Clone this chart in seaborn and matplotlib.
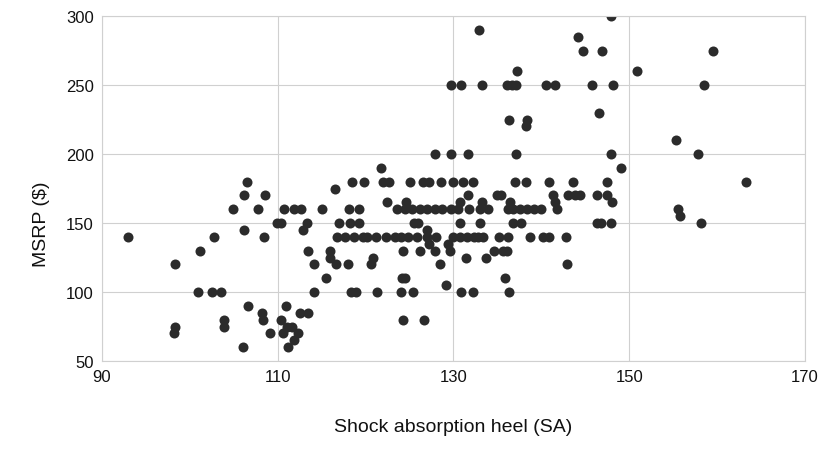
import numpy as np
import pandas as pd
import seaborn as sns
import matplotlib.pyplot as plt

# Shock absorption heel (SA) vs MSRP, grouped by price level
sa_60 = [106.0, 111.2]
sa_65 = [111.9]
sa_70 = [98.2, 109.1, 110.6, 112.3]
sa_75 = [98.3, 103.9, 111.0, 111.6]
sa_80 = [103.9, 108.3, 110.4, 124.3, 126.7]
sa_85 = [108.2, 112.5, 113.4]
sa_90 = [106.6, 110.9]
sa_100 = [100.9, 102.5, 103.5, 114.1, 118.3, 118.9, 121.3, 124.0, 125.4, 130.9, 132.2, 136.3]
sa_105 = [129.1]
sa_110 = [115.5, 124.2, 124.5, 135.9]
sa_120 = [98.3, 114.1, 116.6, 118.0, 120.6, 128.5, 142.9]
sa_125 = [115.9, 120.8, 131.4, 133.7]
sa_130 = [101.1, 113.4, 115.9, 124.3, 126.2, 127.9, 129.6, 134.6, 135.6, 136.1]
sa_135 = [127.2, 129.4]
sa_140 = [93.0, 102.8, 108.4, 116.7, 117.7, 118.7, 119.7, 120.2, 121.2, 122.3, 123.3,
          124.0, 124.8, 125.9, 127.0, 128.0, 129.9, 130.7, 131.5, 132.3, 132.8, 133.4,
          135.2, 136.2, 138.7, 140.2, 140.9, 142.8]
sa_145 = [106.2, 112.9, 127.0]
sa_150 = [109.9, 110.4, 113.3, 117.0, 118.2, 119.3, 125.5, 126.0, 130.8, 133.0, 136.8,
          137.7, 146.3, 146.8, 147.9, 158.2]
sa_155 = [155.8]
sa_160 = [104.9, 107.7, 110.7, 111.8, 112.6, 115.0, 118.1, 119.2, 123.6, 124.5, 125.3,
          126.2, 127.0, 127.9, 128.7, 129.7, 130.5, 131.8, 133.0, 133.9, 136.2, 136.8,
          137.6, 138.4, 139.2, 140.0, 141.8, 155.5]
sa_165 = [122.4, 124.6, 130.8, 133.2, 136.4, 141.6, 148.0]
sa_170 = [106.2, 108.5, 131.7, 134.9, 135.4, 141.3, 143.0, 143.8, 144.4, 146.3, 147.5]
sa_175 = [116.5]
sa_180 = [106.5, 118.4, 119.8, 122.0, 122.7, 125.0, 126.5, 127.2, 128.6, 129.9, 131.1,
          132.2, 137.0, 138.3, 140.9, 143.6, 147.5, 163.3]
sa_190 = [121.8, 149.1]
sa_200 = [127.9, 129.7, 131.7, 137.1, 147.9, 157.8]
sa_210 = [155.3]
sa_220 = [138.2]
sa_225 = [136.3, 138.4]
sa_230 = [146.6]
sa_250 = [129.7, 130.9, 133.3, 136.1, 136.7, 137.1, 140.5, 141.6, 145.8, 148.1, 158.5]
sa_260 = [137.2, 150.9]
sa_275 = [144.7, 146.9, 159.5]
sa_285 = [144.2]
sa_290 = [132.9]
sa_300 = [147.9]

groups = {60: sa_60, 65: sa_65, 70: sa_70, 75: sa_75, 80: sa_80, 85: sa_85, 90: sa_90,
          100: sa_100, 105: sa_105, 110: sa_110, 120: sa_120, 125: sa_125, 130: sa_130,
          135: sa_135, 140: sa_140, 145: sa_145, 150: sa_150, 155: sa_155, 160: sa_160,
          165: sa_165, 170: sa_170, 175: sa_175, 180: sa_180, 190: sa_190, 200: sa_200,
          210: sa_210, 220: sa_220, 225: sa_225, 230: sa_230, 250: sa_250, 260: sa_260,
          275: sa_275, 285: sa_285, 290: sa_290, 300: sa_300}

rows = [(sa, price) for price, xs in groups.items() for sa in xs]
df = pd.DataFrame(rows, columns=["sa", "msrp"])

sns.set_style("whitegrid", {"grid.color": "#d0d0d0", "axes.edgecolor": "#d0d0d0"})
plt.rcParams['font.family'] = ['Liberation Sans', 'DejaVu Sans']

fig = plt.figure(figsize=(8.29, 4.60), dpi=100)
ax = fig.add_axes([0.123, 0.213, 0.848, 0.750])
sns.scatterplot(data=df, x="sa", y="msrp", color="#2b2b2b", s=52, linewidth=0, ax=ax)

ax.set_xlim(90, 170)
ax.set_ylim(50, 300)
ax.set_xticks([90, 110, 130, 150, 170])
ax.set_yticks([50, 100, 150, 200, 250, 300])
ax.tick_params(labelsize=12, length=0, pad=6, colors="#111111")
ax.set_xlabel("Shock absorption heel (SA)", fontsize=14, labelpad=24, color="#111111")
ax.set_ylabel("MSRP ($)", fontsize=14, color="#111111")
ax.yaxis.set_label_coords(-0.074, 0.40)
for sp in ax.spines.values():
    sp.set_color("#d0d0d0")

fig.savefig("out.png", dpi=100)
